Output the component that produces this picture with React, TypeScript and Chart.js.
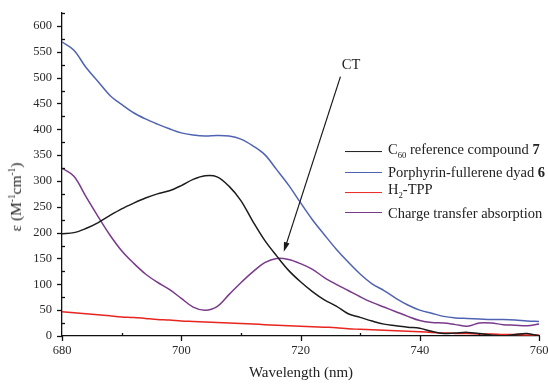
import React, { useEffect, useRef } from "react";
import { Chart, registerables } from "chart.js";

Chart.register(...registerables);

const wavelengths = [680, 682, 684, 686, 688, 690, 692, 694, 696, 698, 700, 702, 704, 706, 708, 710, 712, 714, 716, 718, 720, 722, 724, 726, 728, 730, 732, 734, 736, 738, 740, 742, 744, 746, 748, 750, 752, 754, 756, 758, 760];

const c60Ref = [198, 200, 208, 219, 233, 246, 257, 267, 275, 281, 291, 303, 310, 308, 290, 262, 222, 185, 155, 127, 105, 86, 70, 58, 43, 36, 29, 23, 20, 17, 15, 9, 5, 6, 7, 5, 2, 0, 3, 5, 0];
const dyad = [569, 553, 520, 493, 466, 448, 432, 420, 410, 401, 393, 389, 387, 388, 387, 381, 368, 351, 322, 292, 258, 225, 196, 168, 143, 120, 101, 88, 73, 60, 50, 44, 38, 35, 34, 33, 32, 32, 31, 29, 28];
const h2tpp = [47, 45, 43, 41, 39, 37, 36, 34, 32, 31, 29, 28, 27, 26, 25, 24, 23, 22, 21, 20, 19, 18, 17, 16, 14, 13, 12, 11, 10, 9, 8, 7, 6, 5, 5, 4, 4, 3, 3, 2, 2];
const chargeTransfer = [325, 309, 270, 232, 196, 165, 141, 120, 104, 90, 73, 56, 50, 57, 80, 103, 124, 142, 150, 148, 140, 129, 113, 100, 88, 76, 65, 56, 47, 38, 30, 26, 25, 22, 19, 25, 25, 22, 21, 20, 23];

const xTicks = [680, 700, 720, 740, 760];
const yTicks = [0, 50, 100, 150, 200, 250, 300, 350, 400, 450, 500, 550, 600];

// CT arrow (data coordinates): from [x, y] to [x, y]
const arrowFrom = [726.7, 502];
const arrowTo = [717.2, 163];

const COLORS = {
  black: "#1c1c1c",
  blue: "#5063b3",
  red: "#e8251f",
  purple: "#7a3a8b",
};

const FONT = "'Liberation Serif', 'Times New Roman', serif";

const axisPlugin = {
  id: "customTicks",
  afterDraw(chart: any) {
    const ctx = chart.ctx;
    const x = chart.scales.x;
    const y = chart.scales.y;
    const area = chart.chartArea;
    ctx.save();
    ctx.strokeStyle = "#111";
    ctx.lineWidth = 1.3;
    for (let v = 0; v <= 625; v += 25) {
      const py = Math.round(y.getPixelForValue(v)) + 0.5;
      ctx.beginPath();
      if (v % 50 === 0) {
        ctx.moveTo(area.left - 5, py);
        ctx.lineTo(area.left, py);
      } else {
        ctx.moveTo(area.left, py);
        ctx.lineTo(area.left + 3, py);
      }
      ctx.stroke();
    }
    for (let v = 680; v <= 760; v += 10) {
      const px = Math.round(x.getPixelForValue(v)) + 0.5;
      ctx.beginPath();
      if (v % 20 === 0) {
        ctx.moveTo(px, area.bottom);
        ctx.lineTo(px, area.bottom + 5);
      } else {
        ctx.moveTo(px, area.bottom);
        ctx.lineTo(px, area.bottom - 3);
      }
      ctx.stroke();
    }
    const x0 = x.getPixelForValue(arrowFrom[0]);
    const y0 = y.getPixelForValue(arrowFrom[1]);
    const x1 = x.getPixelForValue(arrowTo[0]);
    const y1 = y.getPixelForValue(arrowTo[1]);
    const ang = Math.atan2(y1 - y0, x1 - x0);
    const head = 10;
    const wing = 0.3;
    ctx.strokeStyle = "#1a1a1a";
    ctx.fillStyle = "#1a1a1a";
    ctx.lineWidth = 1.2;
    ctx.beginPath();
    ctx.moveTo(x0, y0);
    ctx.lineTo(x1 - Math.cos(ang) * head * 0.8, y1 - Math.sin(ang) * head * 0.8);
    ctx.stroke();
    ctx.beginPath();
    ctx.moveTo(x1, y1);
    ctx.lineTo(x1 - head * Math.cos(ang - wing), y1 - head * Math.sin(ang - wing));
    ctx.lineTo(x1 - head * Math.cos(ang + wing), y1 - head * Math.sin(ang + wing));
    ctx.closePath();
    ctx.fill();
    ctx.restore();
  },
};

export default function App() {
  const ref = useRef<HTMLCanvasElement | null>(null);

  useEffect(() => {
    if (!ref.current) return;
    const mk = (data: number[], color: string) => ({
      data: wavelengths.map((w, i) => ({ x: w, y: data[i] })),
      borderColor: color,
      borderWidth: 1.5,
      pointRadius: 0,
      tension: 0.35,
      fill: false,
    });
    const chart = new Chart(ref.current, {
      type: "line",
      data: {
        datasets: [
          mk(c60Ref, COLORS.black),
          mk(dyad, COLORS.blue),
          mk(h2tpp, COLORS.red),
          mk(chargeTransfer, COLORS.purple),
        ],
      },
      options: {
        animation: false,
        responsive: false,
        layout: { padding: { left: 0, top: 13, right: 9, bottom: 0 } },
        plugins: { legend: { display: false }, tooltip: { enabled: false } },
        scales: {
          x: {
            type: "linear",
            min: 680,
            max: 760,
            grid: { display: false, drawTicks: false },
            border: { display: true, color: "#111", width: 1.3 },
            afterBuildTicks: (s: any) => {
              s.ticks = xTicks.map((v) => ({ value: v }));
            },
            ticks: {
              padding: 7,
              color: "#2a2a2a",
              font: { family: FONT, size: 12.5 },
              maxRotation: 0,
            },
            afterFit: (s: any) => {
              s.height = 50;
              s.paddingLeft = 0;
              s.paddingRight = 0;
            },
          },
          y: {
            type: "linear",
            min: 0,
            max: 625,
            grid: { display: false, drawTicks: false },
            border: { display: true, color: "#111", width: 1.3 },
            afterBuildTicks: (s: any) => {
              s.ticks = yTicks.map((v) => ({ value: v }));
            },
            ticks: {
              padding: 10,
              color: "#2a2a2a",
              font: { family: FONT, size: 12.5 },
            },
            afterFit: (s: any) => {
              s.width = 62;
              s.paddingTop = 0;
              s.paddingBottom = 0;
            },
          },
        },
      },
      plugins: [axisPlugin],
    });
    return () => chart.destroy();
  }, []);

  const legendItems = [
    { color: COLORS.black, label: <>C<sub style={{ fontSize: "0.6em" }}>60</sub> reference compound <b>7</b></> },
    { color: COLORS.blue, label: <>Porphyrin-fullerene dyad <b>6</b></> },
    { color: COLORS.red, label: <>H<sub style={{ fontSize: "0.6em" }}>2</sub>-TPP</> },
    { color: COLORS.purple, label: <>Charge transfer absorption</> },
  ];

  return (
    <div style={{ position: "absolute", left: 0, top: 0, width: 548, height: 386, overflow: "hidden", background: "#fff", fontFamily: FONT, color: "#222" }}>
      <canvas ref={ref} width={548} height={386} style={{ display: "block", position: "absolute", left: 0, top: 0 }} />
      <div style={{ position: "absolute", left: 301, top: 372, transform: "translate(-50%, -50%)", fontSize: 15, whiteSpace: "nowrap" }}>
        Wavelength (nm)
      </div>
      <div style={{ position: "absolute", left: 16, top: 197, transform: "translate(-50%, -50%) rotate(-90deg)", fontSize: 15.5, whiteSpace: "nowrap" }}>
        ε (M<sup style={{ fontSize: "0.6em" }}>-1</sup>cm<sup style={{ fontSize: "0.6em" }}>-1</sup>)
      </div>
      <div style={{ position: "absolute", left: 351, top: 64, transform: "translate(-50%, -50%)", fontSize: 14.5, whiteSpace: "nowrap" }}>
        CT
      </div>
      {legendItems.map((it, i) => (
        <div key={i} style={{ position: "absolute", left: 345, top: 152 + i * 20.2, transform: "translateY(-50%)", display: "flex", alignItems: "center", fontSize: 14.5, whiteSpace: "nowrap", lineHeight: "16px" }}>
          <span style={{ display: "inline-block", width: 37, height: 0, borderTop: `1.5px solid ${it.color}`, marginRight: 6 }} />
          <span>{it.label}</span>
        </div>
      ))}
    </div>
  );
}
